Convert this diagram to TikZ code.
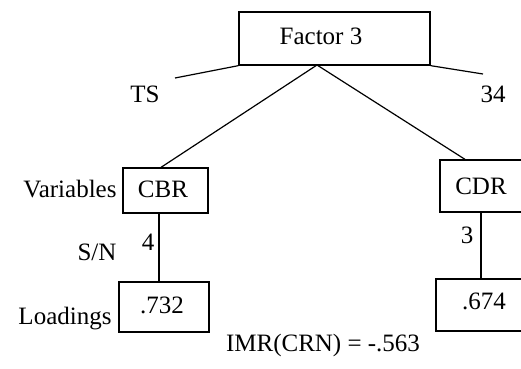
\documentclass[tikz,border=0pt]{standalone}
\usepackage{fontspec}
\setmainfont{Liberation Serif}
\begin{document}
\begin{tikzpicture}[x=1pt,y=-1pt,
  boxn/.style={draw,line width=1.3pt,inner sep=0pt,minimum width=#1},
  lbl/.style={anchor=base,inner sep=0pt,font=\fontsize{25}{29}\selectfont},
  conn/.style={line width=1.2pt}]
\useasboundingbox (0,0) rectangle (521,368);
% boxes
\node[boxn=191pt,minimum height=53pt] (f) at (334.5,38.5) {};
\node[boxn=85pt,minimum height=45pt] (cbr) at (165.5,190.5) {};
\node[boxn=90pt,minimum height=50pt] (l1) at (164,307) {};
\node[boxn=100pt,minimum height=52pt] (cdr) at (490,186) {};
\node[boxn=104pt,minimum height=52pt] (l2) at (488,305) {};
% texts
\node[lbl] (tf) at (321,44) {Factor 3};
\node[lbl] (tts) at (145,102) {TS};
\node[lbl] (t34) at (493,102) {34};
\node[lbl] (tvar) at (70,197) {Variables};
\node[lbl] (tcbr) at (163,197) {CBR};
\node[lbl] (t4) at (148,250) {4};
\node[lbl] (tsn) at (97,260) {S/N};
\node[lbl] (t732) at (162,313) {.732};
\node[lbl] (tload) at (65,324) {Loadings};
\node[lbl] (timr) at (323,351) {IMR(CRN) = -.563};
\node[lbl] (tcdr) at (481,194) {CDR};
\node[lbl] (t3) at (467,243) {3};
\node[lbl] (t674) at (484,309) {.674};
% connectors
\coordinate (tsend) at (175,78);
\coordinate (e34) at (483,74);
\coordinate (fj) at (317,65);
\draw[conn] (f.south west) -- (tsend);
\draw[conn] (f.south east) -- (e34);
\draw[conn] (fj) -- ([xshift=-4.5pt]cbr.north);
\draw[conn] (fj) -- ([xshift=-25pt]cdr.north);
\draw[conn] ([xshift=-6.5pt]cbr.south) -- ([xshift=-5pt]l1.north);
\draw[conn] ([xshift=-9pt]cdr.south) -- ([xshift=-7pt]l2.north);
\end{tikzpicture}
\end{document}
